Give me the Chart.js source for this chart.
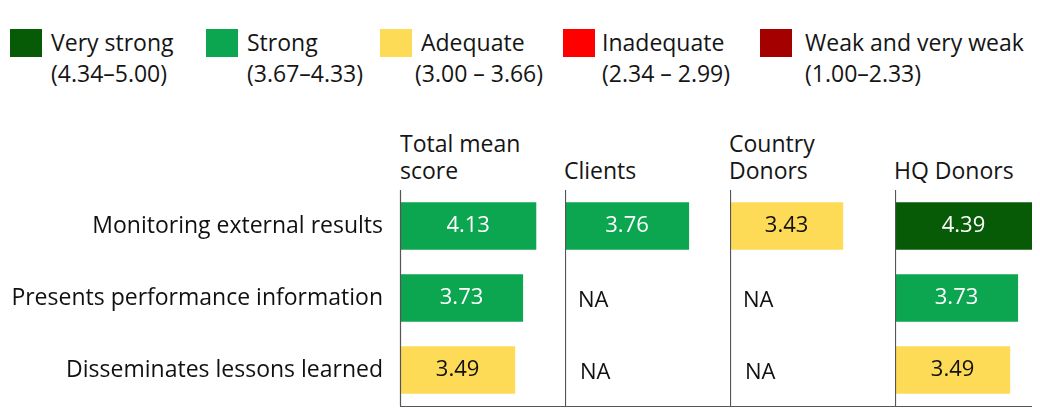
<!DOCTYPE html>
<html>
<head>
<meta charset="utf-8">
<script src="https://cdn.jsdelivr.net/npm/chart.js@4"></script>
<style>
  body { margin: 0; background: #fff; font-family: "Open Sans", Lato, sans-serif; color: #151515; }
  #wrap { position: relative; width: 1040px; height: 410px; overflow: hidden; }
  .swatch { position: absolute; top: 29px; width: 32px; height: 28px; }
  .legtext { position: absolute; top: 27px; font-size: 23px; line-height: 31px; white-space: nowrap; }
  .head { position: absolute; top: 130px; height: 54px; font-size: 23px; line-height: 27px;
          display: flex; flex-direction: column; justify-content: flex-end; white-space: nowrap; }
  canvas { position: absolute; top: 174px; }
</style>
</head>
<body>
<div id="wrap"></div>
<script>
// rows and column groups
const rowLabels = ['Monitoring external results', 'Presents performance information', 'Disseminates lessons learned'];
const groupTitles = [['Total mean', 'score'], ['Clients'], ['Country', 'Donors'], ['HQ Donors']];

// mean scores per group (null = NA)
const totalMean = [4.13, 3.73, 3.49];
const clients = [3.76, null, null];
const countryDonors = [3.43, null, null];
const hqDonors = [4.39, 3.73, 3.49];

// rating bands
const ratingNames = ['Very strong', 'Strong', 'Adequate', 'Inadequate', 'Weak and very weak'];
const ratingRanges = ['(4.34–5.00)', '(3.67–4.33)', '(3.00 – 3.66)', '(2.34 – 2.99)', '(1.00–2.33)'];
const ratingFloors = [4.34, 3.67, 3.00, 2.34, 1.00];
const ratingColors = ['#075b07', '#0ca650', '#fddb57', '#ff0000', '#a50000'];
const ratingTextColors = ['#ffffff', '#ffffff', '#111111', '#ffffff', '#ffffff'];

const FONT = '"Open Sans"';
const wrap = document.getElementById('wrap');

function band(v) {
    const i = ratingFloors.findIndex(f => v >= f);
    return i < 0 ? ratingFloors.length - 1 : i;
}

// legend
const legendX = [10, 206, 380, 563, 760];
const legendTextX = [51, 247, 415, 602, 805];
ratingNames.forEach((name, i) => {
    const sw = document.createElement('div');
    sw.className = 'swatch';
    sw.style.left = legendX[i] + 'px';
    sw.style.background = ratingColors[i];
    wrap.appendChild(sw);
    const t = document.createElement('div');
    t.className = 'legtext';
    t.style.left = legendTextX[i] + 'px';
    t.innerHTML = '<div style="padding-left:' + (i === 2 ? 6 : 0) + 'px">' + name + '</div><div>' + ratingRanges[i] + '</div>';
    wrap.appendChild(t);
});

// columns
const columns = [totalMean, clients, countryDonors, hqDonors];
const colLeft = [0, 565, 730, 895];
const colWidth = [566, 165, 165, 137];
const axisWidth = 400;
const pxPerUnit = 33;

groupTitles.forEach((lines, i) => {
    const h = document.createElement('div');
    h.className = 'head';
    h.style.left = (i === 0 ? axisWidth : colLeft[i] - 1) + 'px';
    h.innerHTML = lines.map(l => '<div>' + l + '</div>').join('');
    wrap.appendChild(h);
});

const cellPlugin = {
    id: 'cell',
    afterDraw(chart) {
        const ctx = chart.ctx;
        const area = chart.chartArea;
        const meta = chart.getDatasetMeta(0);
        const values = chart.data.datasets[0].data;
        ctx.save();
        ctx.textBaseline = 'middle';
        values.forEach((v, i) => {
            const y = chart.scales.y.getPixelForValue(i);
            if (v === null) {
                ctx.font = '22px ' + FONT;
                ctx.textAlign = 'left';
                ctx.fillStyle = '#111';
                ctx.fillText('NA', area.left + 11 + i * 2, y + 3);
            } else {
                const bar = meta.data[i];
                const end = Math.min(bar.x, area.right);
                ctx.font = '22px ' + FONT;
                ctx.textAlign = 'center';
                ctx.fillStyle = ratingTextColors[band(v)];
                ctx.fillText(v.toFixed(2), (bar.base + end) / 2, y);
            }
        });
        // column divider and baseline
        ctx.strokeStyle = '#555';
        ctx.lineWidth = 1.2;
        ctx.beginPath();
        ctx.moveTo(area.left + 0.5, area.top);
        ctx.lineTo(area.left + 0.5, area.bottom);
        ctx.moveTo(area.left, area.bottom + 0.5);
        ctx.lineTo(area.right, area.bottom + 0.5);
        ctx.stroke();
        ctx.restore();
    }
};

columns.forEach((values, i) => {
    const canvas = document.createElement('canvas');
    canvas.width = colWidth[i];
    canvas.height = 248;
    canvas.style.left = colLeft[i] + 'px';
    wrap.appendChild(canvas);
    const plotWidth = i === 0 ? colWidth[i] - axisWidth : colWidth[i];

    const yScale = {
        display: i === 0,
        grid: { display: false, drawTicks: false },
        border: { display: false },
        ticks: { color: '#111', font: { family: FONT, size: 23 }, padding: 17 }
    };
    if (i === 0) {
        yScale.afterFit = s => {
            s.width = axisWidth;
            s.paddingTop = 0;
            s.paddingBottom = 0;
        };
    }

    new Chart(canvas.getContext('2d'), {
        type: 'bar',
        data: {
            labels: rowLabels,
            datasets: [{
                data: values,
                backgroundColor: values.map(v => v === null ? 'rgba(0,0,0,0)' : ratingColors[band(v)]),
                barPercentage: 0.66,
                categoryPercentage: 1
            }]
        },
        options: {
            indexAxis: 'y',
            responsive: false,
            animation: false,
            devicePixelRatio: 1,
            layout: { padding: { top: 16, bottom: 16, left: 0, right: 0 } },
            plugins: { legend: { display: false }, tooltip: { enabled: false } },
            scales: {
                x: { display: false, min: 0, max: plotWidth / pxPerUnit },
                y: yScale
            }
        },
        plugins: [cellPlugin]
    });
});
</script>
</body>
</html>
